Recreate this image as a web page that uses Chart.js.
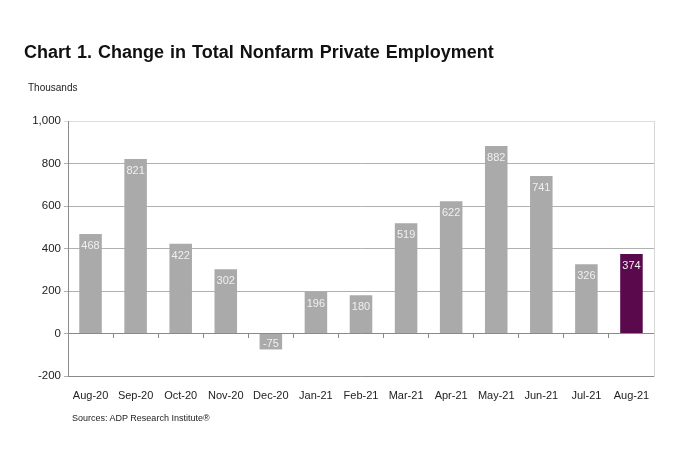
<!DOCTYPE html>
<html><head><meta charset="utf-8">
<script src="https://cdn.jsdelivr.net/npm/chart.js@4.4.0/dist/chart.umd.min.js"></script>
<style>
html,body{margin:0;padding:0;background:#fff;}
#wrap{position:relative;width:696px;height:453px;font-family:"Liberation Sans",Arial,sans-serif;}
#title{position:absolute;left:24px;top:42px;font-size:18px;font-weight:bold;color:#111;white-space:nowrap;word-spacing:1px;}
#units{position:absolute;left:28px;top:82px;font-size:10px;color:#222;}
#src{position:absolute;left:72px;top:413px;font-size:9px;color:#222;}
canvas{position:absolute;left:0;top:0;}
</style></head>
<body>
<div id="wrap">
<canvas id="c" width="696" height="453"></canvas>
<div id="title">Chart 1. Change in Total Nonfarm Private Employment</div>
<div id="units">Thousands</div>
<div id="src">Sources: ADP Research Institute®</div>
</div>
<script>
const categories = ["Aug-20","Sep-20","Oct-20","Nov-20","Dec-20","Jan-21","Feb-21","Mar-21","Apr-21","May-21","Jun-21","Jul-21","Aug-21"];
const values = [468, 821, 422, 302, -75, 196, 180, 519, 622, 882, 741, 326, 374];
const yTicks = [-200, 0, 200, 400, 600, 800, 1000];
const barColors = categories.map((c, i) => i === categories.length - 1 ? "#5a0a4c" : "#a9aaa9");

const labelPlugin = {
  id: 'barLabels',
  afterDatasetsDraw(chart) {
    const ctx = chart.ctx;
    const meta = chart.getDatasetMeta(0);
    ctx.save();
    ctx.font = '11px "Liberation Sans", Arial, sans-serif';
    ctx.fillStyle = '#f0f0f0';
    ctx.textAlign = 'center';
    ctx.textBaseline = 'middle';
    meta.data.forEach((bar, i) => {
      const v = values[i];
      const y = v >= 0 ? bar.y + 12 : bar.y - 5;
      ctx.fillText(String(v), bar.x, y);
    });
    ctx.restore();
  }
};

new Chart(document.getElementById('c'), {
  type: 'bar',
  data: {
    labels: categories,
    datasets: [{ data: values, backgroundColor: barColors, barPercentage: 0.5, categoryPercentage: 1.0 }]
  },
  options: {
    responsive: false,
    animation: false,
    devicePixelRatio: 1,
    layout: { padding: { left: 0, top: 121, right: 42, bottom: 47 } },
    plugins: { legend: { display: false }, tooltip: { enabled: false } },
    scales: {
      x: {
        position: 'bottom',
        grid: { display: false },
        border: { display: true, color: '#8a8a8a', width: 1 },
        ticks: { color: '#222', font: { size: 11, family: '"Liberation Sans", Arial, sans-serif' }, padding: 5, maxRotation: 0, autoSkip: false },
        afterFit(s) { s.height = 30; }
      },
      x2: {
        type: 'category',
        labels: categories,
        position: { y: 0 },
        offset: true,
        grid: { drawOnChartArea: false, drawTicks: true, tickLength: 4, color: '#8a8a8a', offset: true },
        border: { display: true, color: '#8a8a8a', width: 1 },
        ticks: { display: false }
      },
      y: {
        min: -200, max: 1000,
        afterBuildTicks(s) { s.ticks = yTicks.map(v => ({ value: v })); },
        grid: {
          color: ctx => ctx.tick && ctx.tick.value === 1000 ? '#dcdcdc' : '#b0b0b0',
          tickLength: 4,
          lineWidth: 1
        },
        border: { display: true, color: '#8a8a8a' },
        ticks: {
          color: '#222', padding: 3,
          font: { size: 11.5, family: '"Liberation Sans", Arial, sans-serif' },
          callback: v => v.toLocaleString('en-US')
        },
        afterFit(s) { s.width = 68; }
      },
      y2: {
        position: 'right',
        min: -200, max: 1000,
        grid: { drawOnChartArea: false, drawTicks: false },
        border: { display: true, color: '#d6d6d6' },
        ticks: { display: false },
        afterFit(s) { s.width = 0; }
      }
    }
  },
  plugins: [labelPlugin]
});
</script>
</body></html>
